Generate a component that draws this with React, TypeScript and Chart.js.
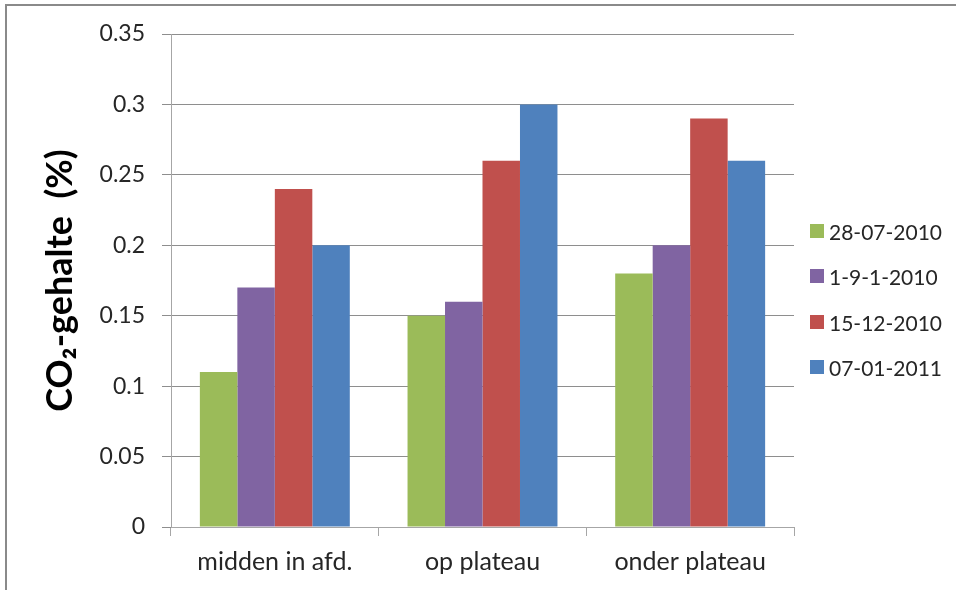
import React, { useEffect, useRef } from 'react';
import { Chart, registerables } from 'chart.js';

Chart.register(...registerables);

const categories = ['midden in afd.', 'op plateau', 'onder plateau'];
const seriesNames = ['28-07-2010', '1-9-1-2010', '15-12-2010', '07-01-2011'];
const seriesColors = ['#9BBB59', '#8064A2', '#C0504D', '#4F81BD'];
const series1 = [0.11, 0.15, 0.18];
const series2 = [0.17, 0.16, 0.2];
const series3 = [0.24, 0.26, 0.29];
const series4 = [0.2, 0.3, 0.26];
const yTickValues = [0, 0.05, 0.1, 0.15, 0.2, 0.25, 0.3, 0.35];
const yTickLabels = ['0', '0.05', '0.1', '0.15', '0.2', '0.25', '0.3', '0.35'];
const yTitle = 'CO₂-gehalte  (%)';

const FONT = "Lato, 'DejaVu Sans', sans-serif";
const TEXT = '#262626';

export default function App() {
  const canvasRef = useRef<HTMLCanvasElement | null>(null);

  useEffect(() => {
    const canvas = canvasRef.current;
    if (!canvas) return;
    const allSeries = [series1, series2, series3, series4];
    const chart = new Chart(canvas, {
      type: 'bar',
      data: {
        labels: categories,
        datasets: allSeries.map((d, i) => ({
          label: seriesNames[i],
          data: d,
          backgroundColor: seriesColors[i],
          borderWidth: 0,
          categoryPercentage: 0.722,
          barPercentage: 1,
        })),
      },
      options: {
        responsive: false,
        animation: false,
        devicePixelRatio: 1,
        layout: { padding: { left: 29, right: 162, top: 34, bottom: 0 } },
        plugins: {
          legend: { display: false },
          tooltip: { enabled: false },
        },
        scales: {
          x: {
            grid: {
              display: true,
              drawOnChartArea: false,
              drawTicks: true,
              tickLength: 9,
              color: '#a6a6a6',
              offset: true,
            },
            border: { color: '#a6a6a6', width: 1 },
            ticks: {
              font: { family: FONT, size: 25 },
              color: TEXT,
              padding: 11,
              maxRotation: 0,
            },
            afterFit: (s: any) => {
              s.height = 63;
            },
          },
          y: {
            min: 0,
            max: 0.35,
            afterBuildTicks: (s: any) => {
              s.ticks = yTickValues.map((v) => ({ value: v }));
            },
            ticks: {
              callback: (_v: any, i: number) => yTickLabels[i],
              font: { family: FONT, size: 23 },
              color: TEXT,
              padding: 17,
            },
            grid: { color: '#8e8e8e', tickLength: 9, lineWidth: 1 },
            border: { color: '#a6a6a6', width: 1 },
            title: {
              display: true,
              text: yTitle,
              font: { family: FONT, size: 36, weight: 'bold' },
              color: '#000',
              padding: { top: 10, bottom: 0 },
            },
            afterFit: (s: any) => {
              s.width = 142;
            },
          },
        },
      },
    });
    return () => chart.destroy();
  }, []);

  const legendCenters = [231, 276, 322, 367];

  return (
    <div style={{ position: 'absolute', left: 0, top: 0, width: 956, height: 590, background: '#fff', overflow: 'hidden' }}>
      <canvas ref={canvasRef} width={956} height={590} style={{ position: 'absolute', left: 0, top: 0, width: 956, height: 590 }} />
      <div
        style={{
          position: 'absolute',
          left: 5,
          top: 4,
          right: 0,
          bottom: 0,
          borderTop: '2px solid #8a8a8a',
          borderLeft: '2px solid #8a8a8a',
          pointerEvents: 'none',
        }}
      />
      {seriesNames.map((name, i) => (
        <div
          key={name}
          style={{
            position: 'absolute',
            left: 810,
            top: legendCenters[i] - 15,
            height: 30,
            display: 'flex',
            alignItems: 'center',
            fontFamily: FONT,
            fontSize: 21,
            lineHeight: 1,
            color: TEXT,
            whiteSpace: 'nowrap',
          }}
        >
          <span style={{ display: 'inline-block', width: 14, height: 14, background: seriesColors[i], marginRight: 5 }} />
          <span>{name}</span>
        </div>
      ))}
    </div>
  );
}
